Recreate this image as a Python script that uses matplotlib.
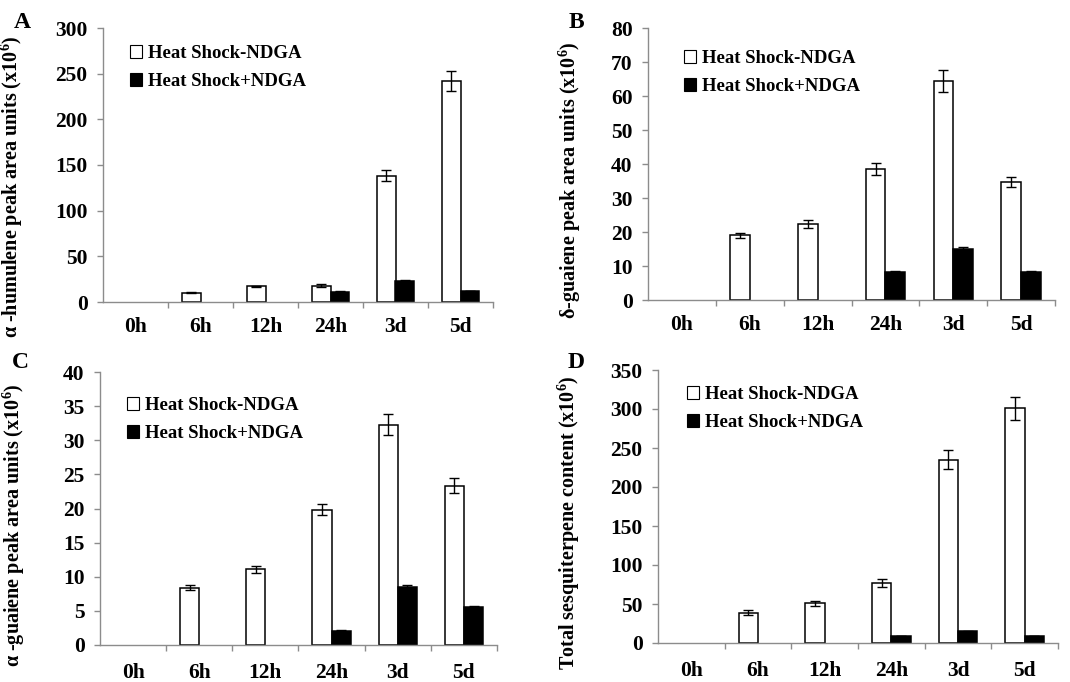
import matplotlib
matplotlib.use("Agg")
import matplotlib.pyplot as plt
import numpy as np
from matplotlib.patches import Patch

plt.rcParams['font.family'] = ['Liberation Serif', 'DejaVu Serif']
plt.rcParams['font.weight'] = 'bold'
plt.rcParams['mathtext.fontset'] = 'custom'
plt.rcParams['mathtext.rm'] = 'Liberation Serif:bold'
plt.rcParams['mathtext.bf'] = 'Liberation Serif:bold'
plt.rcParams['mathtext.it'] = 'Liberation Serif:bold:italic'

categories = ["0h", "6h", "12h", "24h", "3d", "5d"]

# Panel A: alpha-humulene
a_minus = [0, 10, 17, 18, 138, 242]
a_minus_err = [0, 0.6, 0.6, 1.5, 6, 11]
a_plus = [0, 0, 0, 11, 23, 12]
a_plus_err = [0, 0, 0, 0.5, 1.0, 0.5]

# Panel B: delta-guaiene
b_minus = [0, 19, 22.3, 38.5, 64.5, 34.7]
b_minus_err = [0, 0.8, 1.1, 1.8, 3.2, 1.6]
b_plus = [0, 0, 0, 8.3, 15, 8.3]
b_plus_err = [0, 0, 0, 0.3, 0.7, 0.3]

# Panel C: alpha-guaiene
c_minus = [0, 8.4, 11.1, 19.8, 32.3, 23.3]
c_minus_err = [0, 0.4, 0.5, 0.8, 1.5, 1.1]
c_plus = [0, 0, 0, 2.1, 8.5, 5.5]
c_plus_err = [0, 0, 0, 0.15, 0.3, 0.15]

# Panel D: total sesquiterpene
d_minus = [0, 39, 51, 77, 235, 301]
d_minus_err = [0, 3, 3, 5, 12, 15]
d_plus = [0, 0, 0, 9, 15, 9]
d_plus_err = [0, 0, 0, 0.5, 0.6, 0.5]

series_names = ["Heat Shock-NDGA", "Heat Shock+NDGA"]

W, H = 1070, 682
fig = plt.figure(figsize=(W / 100, H / 100), dpi=100)

def px_axes(l, r, t, b):
    return fig.add_axes([l / W, (H - b) / H, (r - l) / W, (b - t) / H])

panels = [
    dict(box=(103, 493, 28, 302), minus=a_minus, me=a_minus_err, plus=a_plus, pe=a_plus_err,
         ymax=300, step=50, ylabel="α -humulene peak area units (x10$^{6}$)",
         letter="A", letter_xy=(22, 22), lab_x=25, lab_y=0.42, leg=(130, 45), xpad=11),
    dict(box=(648, 1055, 28, 300), minus=b_minus, me=b_minus_err, plus=b_plus, pe=b_plus_err,
         ymax=80, step=10, ylabel="δ-guaiene peak area units (x10$^{6}$)",
         letter="B", letter_xy=(576, 22), lab_x=583, lab_y=0.44, leg=(684, 50), xpad=11),
    dict(box=(100, 497, 372, 645), minus=c_minus, me=c_minus_err, plus=c_plus, pe=c_plus_err,
         ymax=40, step=5, ylabel="α -guaiene peak area units (x10$^{6}$)",
         letter="C", letter_xy=(20, 362), lab_x=27, lab_y=0.44, leg=(127, 397), xpad=13),
    dict(box=(658, 1058, 370, 643), minus=d_minus, me=d_minus_err, plus=d_plus, pe=d_plus_err,
         ymax=350, step=50, ylabel="Total sesquiterpene content (x10$^{6}$)",
         letter="D", letter_xy=(576, 362), lab_x=582, lab_y=0.44, leg=(687, 386), xpad=13),
]

x = np.arange(len(categories))
bw = 0.29
axis_gray = "#8c8c8c"

for p in panels:
    l, r, t, b = p["box"]
    ax = px_axes(l, r, t, b)
    minus = np.array(p["minus"], dtype=float)
    plus = np.array(p["plus"], dtype=float)
    me = np.array(p["me"], dtype=float)
    pe = np.array(p["pe"], dtype=float)
    mask_m = minus > 0
    mask_p = plus > 0
    ax.bar(x[mask_m] - bw / 2, minus[mask_m], bw, color="white", edgecolor="black",
           linewidth=1.1, label=series_names[0], zorder=2)
    ax.bar(x[mask_p] + bw / 2, plus[mask_p], bw, color="black", edgecolor="black",
           linewidth=1.1, label=series_names[1], zorder=2)
    ax.errorbar(x[mask_m] - bw / 2, minus[mask_m], yerr=me[mask_m], fmt="none",
                ecolor="black", elinewidth=1, capsize=3.5, capthick=1, zorder=3)
    ax.errorbar(x[mask_p] + bw / 2, plus[mask_p], yerr=pe[mask_p], fmt="none",
                ecolor="black", elinewidth=1, capsize=3.5, capthick=1, zorder=3)

    ax.set_xlim(-0.5, len(categories) - 0.5)
    ax.set_ylim(0, p["ymax"])
    yt = np.arange(0, p["ymax"] + 1e-9, p["step"])
    ax.set_yticks(yt)
    ax.set_yticklabels([f"{v:g}" for v in yt])
    ax.set_xticks(x)
    ax.set_xticklabels(categories)
    ax.set_xticks(np.arange(0.5, len(categories) - 0.5 + 0.01, 1.0), minor=True)
    ax.tick_params(axis="x", which="major", length=0, pad=p["xpad"], labelsize=15.5)
    ax.tick_params(axis="x", which="minor", length=4, width=1, color=axis_gray, direction="out")
    ax.tick_params(axis="y", which="major", length=4, width=1, color=axis_gray,
                   direction="out", pad=7, labelsize=15.5)
    for lab in ax.get_xticklabels() + ax.get_yticklabels():
        lab.set_fontweight("bold")
    for s in ["top", "right"]:
        ax.spines[s].set_visible(False)
    for s in ["left", "bottom"]:
        ax.spines[s].set_color(axis_gray)
        ax.spines[s].set_linewidth(1)

    ax.set_ylabel(p["ylabel"], fontsize=14.5, fontweight="bold")
    ax.yaxis.set_label_coords((p["lab_x"] - l) / (r - l), p["lab_y"])

    lx, ly = p["leg"]
    handles = [Patch(facecolor="white", edgecolor="black", linewidth=0.8),
               Patch(facecolor="black", edgecolor="black", linewidth=0.8)]
    ax.legend(handles, series_names, loc="upper left",
              bbox_to_anchor=((lx - l) / (r - l), (b - ly) / (b - t)),
              frameon=False, handlelength=0.65, handleheight=0.65,
              handletextpad=0.3, labelspacing=0.6, borderaxespad=0, borderpad=0,
              prop=dict(family=["Liberation Serif"], weight="bold", size=13.5))

    fig.text(p["letter_xy"][0] / W, 1 - p["letter_xy"][1] / H, p["letter"],
             fontsize=17, fontweight="bold", ha="center", va="center")

fig.savefig("out.png", dpi=100)
